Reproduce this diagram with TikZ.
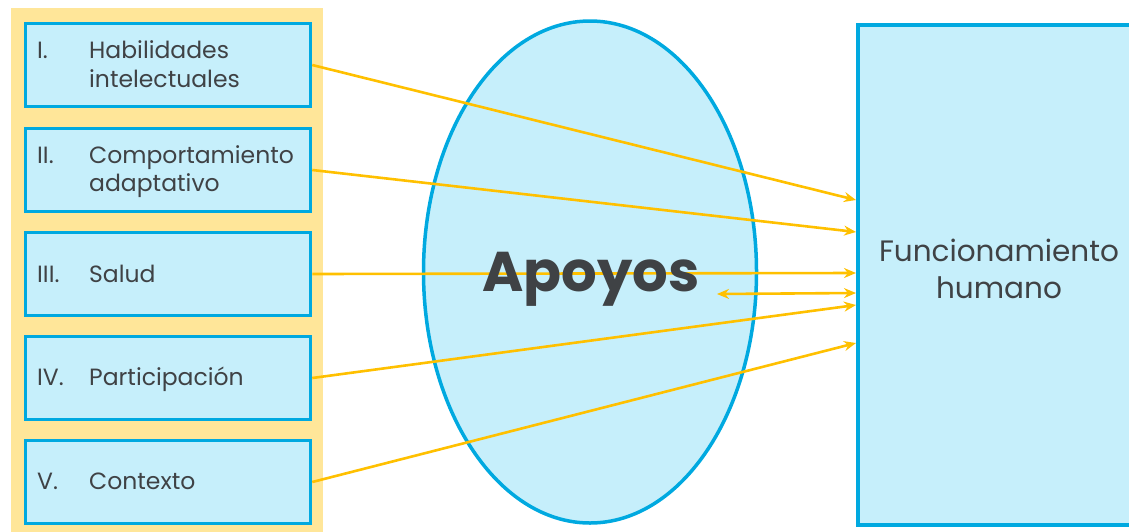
\documentclass[tikz,border=0pt]{standalone}
\usepackage{fontspec}
\setmainfont{Poppins}
\usetikzlibrary{arrows.meta,calc,shapes.geometric}
\definecolor{ybg}{HTML}{FFE699}
\definecolor{bfill}{HTML}{C6EFFB}
\definecolor{bline}{HTML}{00A9E0}
\definecolor{arr}{HTML}{FFC000}
\definecolor{txt}{HTML}{3F4245}
\tikzset{
  itembox/.style={draw=bline,line width=3.5pt,fill=bfill,minimum width=285pt,minimum height=83pt,inner sep=0pt},
  itemtxt/.style={anchor=base west,inner sep=0pt,text=txt,font=\fontsize{23.5}{29}\selectfont},
  conn/.style={draw=arr,line width=2.6pt,-{Stealth[length=12pt,width=10pt]}},
}
\begin{document}
\begin{tikzpicture}[x=1pt,y=-1pt]
\useasboundingbox (0,0) rectangle (1129,531);
\clip (0,0) rectangle (1129,531);
% yellow background
\node[fill=ybg,minimum width=312pt,minimum height=525pt,inner sep=0pt,anchor=north west] (bg) at (11,8) {};
% item boxes
\node[itembox] (b1) at (168,65) {};
\node[itembox] (b2) at (168,170) {};
\node[itembox] (b3) at (168,274) {};
\node[itembox] (b4) at (168,378) {};
\node[itembox] (b5) at (168,482) {};
\node[itemtxt] (n1) at (37,58) {I.};
\node[itemtxt] (t1a) at (89,58) {Habilidades};
\node[itemtxt] (t1b) at (89,87) {intelectuales};
\node[itemtxt] (n2) at (37,163) {II.};
\node[itemtxt] (t2a) at (89,163) {Comportamiento};
\node[itemtxt] (t2b) at (89,191) {adaptativo};
\node[itemtxt] (n3) at (37,282) {III.};
\node[itemtxt] (t3) at (89,282) {Salud};
\node[itemtxt] (n4) at (37,385) {IV.};
\node[itemtxt] (t4) at (89,385) {Participación};
\node[itemtxt] (n5) at (37,489) {V.};
\node[itemtxt] (t5) at (89,489) {Contexto};
% right box
\node[draw=bline,line width=3.5pt,fill=bfill,anchor=north west,minimum width=300pt,minimum height=500pt,inner sep=0pt] (fh) at (856,23) {};
\node[text=txt,anchor=base,font=\fontsize{29.5}{37}\selectfont,inner sep=0pt] (fha) at (999,261) {Funcionamiento};
\node[text=txt,anchor=base,font=\fontsize{29.5}{37}\selectfont,inner sep=0pt] (fhb) at (999,298) {humano};
% ellipse
\node[ellipse,draw=bline,line width=3.5pt,fill=bfill,minimum width=333pt,minimum height=502pt,inner sep=0pt] (ap) at (590,272) {};
% connectors
\coordinate (e1) at ($(fh.north west)+(0,177)$);
\coordinate (e2) at ($(fh.north west)+(0,209)$);
\coordinate (e3) at ($(fh.north west)+(0,250)$);
\coordinate (e4) at ($(fh.north west)+(0,270)$);
\coordinate (e5) at ($(fh.north west)+(0,282)$);
\coordinate (e6) at ($(fh.north west)+(0,320)$);
\coordinate (s4) at (717,294);
\draw[conn] (b1.east) -- (e1);
\draw[conn] (b2.east) -- (e2);
\draw[conn] (b3.east) -- (e3);
\draw[conn,{Stealth[length=12pt,width=10pt]}-{Stealth[length=12pt,width=10pt]}] (s4) -- (e4);
\draw[conn] (b4.east) -- (e5);
\draw[conn] (b5.east) -- (e6);
% label
\node[text=txt,anchor=base,font=\fontsize{56}{60}\selectfont\bfseries,inner sep=0pt] (apt) at (591,291) {Apoyos};
\end{tikzpicture}
\end{document}
